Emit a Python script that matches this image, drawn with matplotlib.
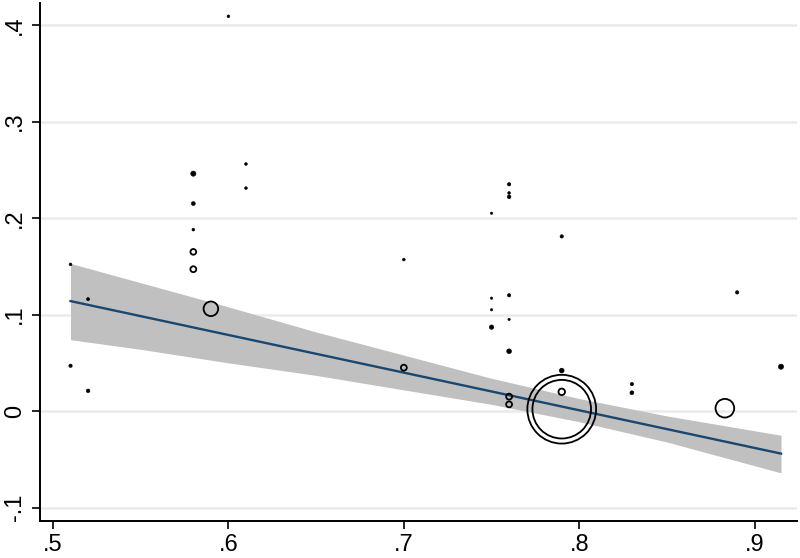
import matplotlib
matplotlib.use("Agg")
import matplotlib.pyplot as plt

# study points (x = covariate, y = effect), marker area ~ study weight
xs = [0.51, 0.51, 0.52, 0.52, 0.58, 0.58, 0.58, 0.58, 0.58, 0.59, 0.60, 0.61, 0.61,
      0.70, 0.70, 0.75, 0.75, 0.75, 0.75, 0.76, 0.76, 0.76, 0.76, 0.76, 0.76, 0.76, 0.76,
      0.79, 0.79, 0.79, 0.79, 0.79, 0.83, 0.83, 0.883, 0.89, 0.915]
ys = [0.152, 0.047, 0.116, 0.021, 0.246, 0.215, 0.188, 0.165, 0.147, 0.106, 0.409, 0.256, 0.231,
      0.157, 0.045, 0.205, 0.117, 0.105, 0.087, 0.235, 0.226, 0.222, 0.120, 0.095, 0.062, 0.015, 0.007,
      0.181, 0.042, 0.020, 0.002, 0.002, 0.028, 0.019, 0.003, 0.123, 0.046]
weights = [4, 6, 5, 7, 14, 8, 4, 17, 18, 110, 4, 4, 4,
           4, 18, 3, 3, 3, 10, 6, 4, 7, 6, 3, 12, 18, 18,
           6, 12, 22, 2450, 1780, 6, 8, 180, 6, 14]

# fitted line and 95% CI band
fit_x = [0.51, 0.915]
fit_y = [0.114, -0.044]
band_x = [0.51, 0.55, 0.60, 0.65, 0.70, 0.75, 0.80, 0.85, 0.915]
band_hi = [0.153, 0.133, 0.108, 0.082, 0.058, 0.034, 0.013, -0.005, -0.025]
band_lo = [0.074, 0.064, 0.050, 0.037, 0.022, 0.007, -0.011, -0.032, -0.064]

xticks = [0.5, 0.6, 0.7, 0.8, 0.9]
xlabels = [".5", ".6", ".7", ".8", ".9"]
yticks = [-0.1, 0, 0.1, 0.2, 0.3, 0.4]
ylabels = ["-.1", "0", ".1", ".2", ".3", ".4"]

plt.rcParams["font.family"] = ["Liberation Sans", "DejaVu Sans"]

fig = plt.figure(figsize=(8, 5.58), dpi=100)
ax = fig.add_axes([0.05, 0.066, 0.946, 0.929])

for yv in yticks:
    ax.axhline(yv, color="#ebebeb", lw=1.8, zorder=0)

ax.fill_between(band_x, band_lo, band_hi, color="#c0c0c0", lw=0, zorder=1)
ax.plot(fit_x, fit_y, color="#1a476f", lw=1.7, zorder=2)

small = [i for i, w in enumerate(weights) if w < 15]
big = [i for i, w in enumerate(weights) if w >= 15]
ax.scatter([xs[i] for i in small], [ys[i] for i in small], s=[weights[i] for i in small],
           color="black", lw=0.4, zorder=3)
ax.scatter([xs[i] for i in big], [ys[i] for i in big], s=[weights[i] for i in big],
           facecolors="none", edgecolors="black", lw=1.3, zorder=3)

ax.set_xlim(0.4926, 0.924)
ax.set_ylim(-0.114, 0.423)
ax.set_xticks(xticks)
ax.set_xticklabels(xlabels, fontsize=17)
ax.set_yticks(yticks)
ax.set_yticklabels(ylabels, fontsize=17, rotation=90, va="center")
ax.tick_params(axis="both", length=6, width=1.2, color="black")
ax.tick_params(axis="y", pad=4)
ax.tick_params(axis="x", pad=3)

ax.spines["top"].set_visible(False)
ax.spines["right"].set_visible(False)
ax.spines["left"].set_linewidth(1.4)
ax.spines["bottom"].set_linewidth(1.4)

fig.savefig("out.png", dpi=100)
